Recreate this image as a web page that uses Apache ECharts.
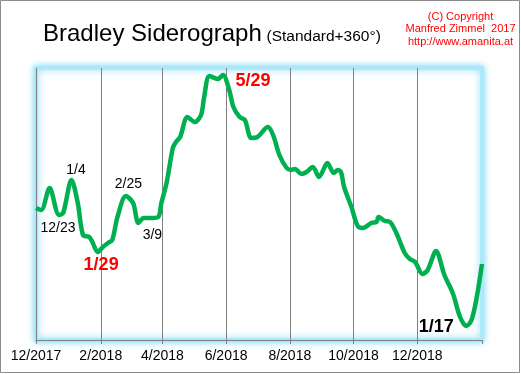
<!DOCTYPE html>
<html>
<head>
<meta charset="utf-8">
<script src="https://cdn.jsdelivr.net/npm/echarts@6/dist/echarts.min.js"></script>
<style>
html,body{margin:0;padding:0;background:#fff;}
#chart{width:521px;height:374px;}
</style>
</head>
<body>
<div id="chart"></div>
<script>
// ---- data ----
const sampleDates = [
  '2017-12-01','2017-12-06','2017-12-14','2017-12-23','2017-12-27',
  '2018-01-04','2018-01-10','2018-01-15','2018-01-21','2018-01-24','2018-01-29',
  '2018-02-03','2018-02-08','2018-02-12','2018-02-17','2018-02-25',
  '2018-03-04','2018-03-09','2018-03-14','2018-03-20','2018-03-28','2018-03-31',
  '2018-04-05','2018-04-11','2018-04-14','2018-04-18','2018-04-25',
  '2018-05-02','2018-05-08','2018-05-11','2018-05-16','2018-05-24','2018-05-29',
  '2018-06-04','2018-06-08','2018-06-14','2018-06-19','2018-06-25',
  '2018-07-01','2018-07-11','2018-07-16','2018-07-22','2018-07-29',
  '2018-08-02','2018-08-06','2018-08-12','2018-08-17','2018-08-23','2018-08-29',
  '2018-09-06','2018-09-12','2018-09-16','2018-09-19','2018-09-22','2018-09-29',
  '2018-10-05','2018-10-10','2018-10-18','2018-10-23','2018-10-25','2018-10-31',
  '2018-11-05','2018-11-11','2018-11-19','2018-11-24','2018-11-29',
  '2018-12-06','2018-12-11','2018-12-19','2018-12-27',
  '2019-01-04','2019-01-11','2019-01-17','2019-01-22','2019-01-27','2019-02-01'
];
const siderographValues = [
  132,130,152,125,127,
  160,137,105,103,98,88,
  93,97,100,123,144,
  137,117,122,122,123,137,
  157,192,198,203,223,
  218,225,243,264,261,265,
  250,233,223,220,202,
  203,213,205,185,172,
  170,171,166,168,173,163,
  177,167,170,168,153,133,
  114,112,117,118,123,119,
  118,107,87,81,78,
  66,70,89,65,
  47,23,14,20,43,76
];
const axisStart = '2017-12-01';
const axisEnd = '2019-02-01';
const labelMonths = [12, 2, 4, 6, 8, 10];
const turnDates = ['2017-12-23','2018-01-04','2018-01-29','2018-02-25','2018-03-09','2018-05-29','2019-01-17'];
const turnTexts = ['12/23','1/4','1/29','2/25','3/9','5/29','1/17'];
const titleText = 'Bradley Siderograph';
const subtitleText = '(Standard+360°)';
const copyrightLines = ['(C) Copyright', 'Manfred Zimmel  2017', 'http://www.amanita.at'];

// ---- build daily category list ----
const categories = [];
(function () {
  let t = Date.parse(axisStart + 'T00:00:00Z');
  const end = Date.parse(axisEnd + 'T00:00:00Z');
  while (t <= end) {
    categories.push(new Date(t).toISOString().slice(0, 10));
    t += 86400000;
  }
})();
const valueByDate = {};
sampleDates.forEach((d, i) => { valueByDate[d] = siderographValues[i]; });
const seriesData = categories.map(d => (d in valueByDate ? valueByDate[d] : null));

function monthOf(v) { return parseInt(v.slice(5, 7), 10); }
function isFirst(v) { return v.slice(8, 10) === '01'; }
function isLabelDay(v) { return isFirst(v) && labelMonths.indexOf(monthOf(v)) >= 0 && v !== axisEnd; }
function isTickDay(v) { return isFirst(v) && (labelMonths.indexOf(monthOf(v)) >= 0 || v === axisEnd); }

const FONT = 'Arial, "Liberation Sans", sans-serif';
const turnStyles = {
  '12/23': { offset: [-1, 13], color: '#000', size: 14, weight: 'normal' },
  '1/4':   { offset: [4.5, -10], color: '#000', size: 14, weight: 'normal' },
  '1/29':  { offset: [3.5, 13], color: '#ff0000', size: 18, weight: 'bold' },
  '2/25':  { offset: [2.5, -12], color: '#000', size: 14, weight: 'normal' },
  '3/9':   { offset: [14, 12.5], color: '#000', size: 14, weight: 'normal' },
  '5/29':  { offset: [30, 6], color: '#ff0000', size: 18, weight: 'bold' },
  '1/17':  { offset: [-30, 1], color: '#000', size: 18, weight: 'bold' }
};
const markData = turnDates.map((d, i) => {
  const st = turnStyles[turnTexts[i]];
  return {
    coord: [d, valueByDate[d]],
    label: {
      show: true, position: 'inside', formatter: turnTexts[i],
      offset: st.offset, color: st.color, fontSize: st.size, fontWeight: st.weight,
      fontFamily: FONT, align: 'center', verticalAlign: 'middle'
    }
  };
});

const chart = echarts.init(document.getElementById('chart'), null, { renderer: 'canvas' });
chart.setOption({
  backgroundColor: '#ffffff',
  animation: false,
  grid: {
    left: 36, right: 39, top: 68, bottom: 34,
    show: true, backgroundColor: '#ffffff',
    borderWidth: 4, borderColor: 'rgba(170,232,250,0.9)',
    shadowBlur: 7, shadowColor: 'rgba(120,215,248,1)'
  },
  xAxis: {
    type: 'category', data: categories, boundaryGap: false,
    axisLine: { show: true, lineStyle: { color: '#808080', width: 1 } },
    axisTick: { show: true, length: 4, interval: (i, v) => isTickDay(v), lineStyle: { color: '#808080' } },
    axisLabel: {
      show: true, interval: (i, v) => isLabelDay(v), margin: 9,
      color: '#000', fontSize: 14, fontFamily: FONT,
      formatter: v => monthOf(v) + '/' + v.slice(0, 4)
    },
    splitLine: { show: true, interval: (i, v) => isLabelDay(v), lineStyle: { color: '#808080', width: 1 } }
  },
  yAxis: { type: 'value', min: 0, max: 272, show: false, splitLine: { show: false } },
  series: [{
    type: 'line', data: seriesData, connectNulls: true, showSymbol: false,
    smooth: 0.3, lineStyle: { color: '#00b050', width: 4.5 },
    itemStyle: { color: '#00b050' },
    markPoint: {
      symbol: 'circle', symbolSize: 1, itemStyle: { color: 'rgba(0,0,0,0)' },
      data: markData
    }
  }],
  graphic: [
    { type: 'rect', silent: true, z: 100,
      shape: { x: 0.5, y: 0.5, width: 519, height: 372 },
      style: { fill: 'none', stroke: '#8c8c8c', lineWidth: 1 } },
    { type: 'text', x: 43, y: 34,
      style: { text: titleText, font: '24px ' + FONT, fill: '#000', textAlign: 'left', textVerticalAlign: 'middle' } },
    { type: 'text', x: 266.5, y: 36.5,
      style: { text: subtitleText, font: '15.5px ' + FONT, fill: '#000', textAlign: 'left', textVerticalAlign: 'middle' } },
    { type: 'text', x: 460.5, y: 17,
      style: { text: copyrightLines[0], font: '11px ' + FONT, fill: '#ff0000', textAlign: 'center', textVerticalAlign: 'middle' } },
    { type: 'text', x: 460.5, y: 29.3,
      style: { text: copyrightLines[1], font: '11px ' + FONT, fill: '#ff0000', textAlign: 'center', textVerticalAlign: 'middle' } },
    { type: 'text', x: 460.5, y: 41.6,
      style: { text: copyrightLines[2], font: '11px ' + FONT, fill: '#ff0000', textAlign: 'center', textVerticalAlign: 'middle' } }
  ]
});
</script>
</body>
</html>
